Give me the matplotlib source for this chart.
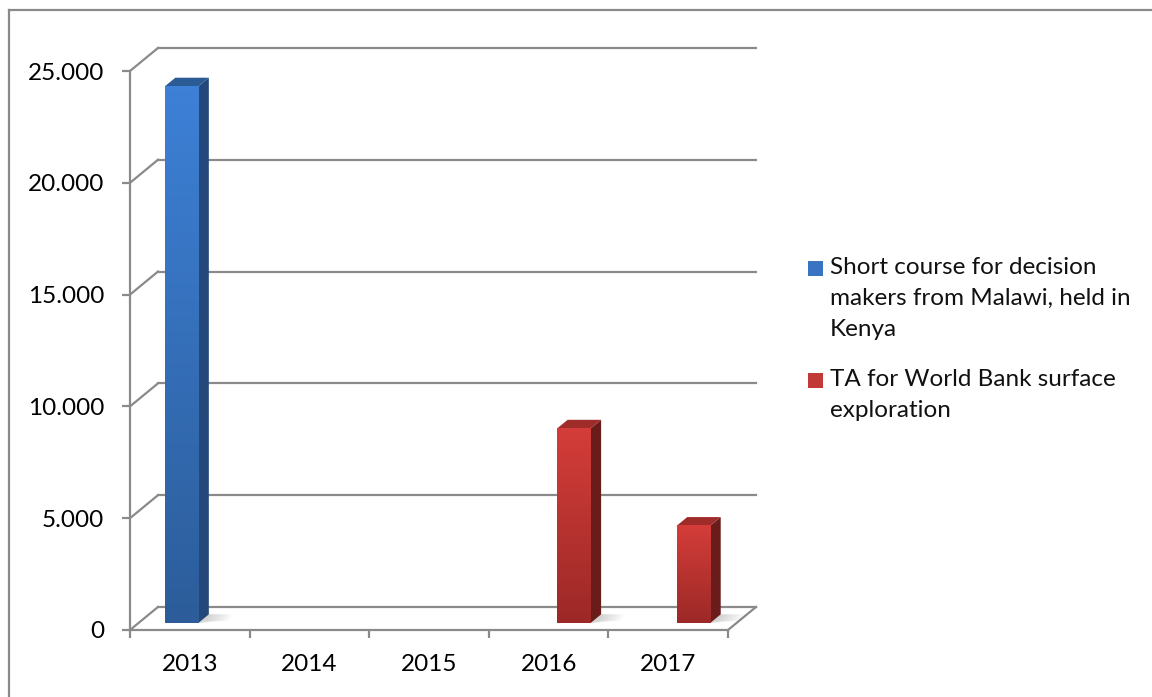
import numpy as np
import matplotlib.pyplot as plt
from matplotlib.patches import Polygon, Rectangle
from matplotlib.lines import Line2D
from matplotlib.colors import LinearSegmentedColormap

# Values per year for the two activities
years = ['2013', '2014', '2015', '2016', '2017']
short_course = [24000, 0, 0, 0, 0]
ta_world_bank = [0, 0, 0, 8700, 4350]
y_ticks = [0, 5000, 10000, 15000, 20000, 25000]
y_labels = ['0', '5.000', '10.000', '15.000', '20.000', '25.000']
legend_labels = ['Short course for decision\nmakers from Malawi, held in\nKenya',
                 'TA for World Bank surface\nexploration']

plt.rcParams['font.family'] = ['Lato', 'DejaVu Sans']

W, H = 1152, 697
fig = plt.figure(figsize=(W / 100, H / 100), dpi=100)
ax = fig.add_axes([130 / W, (H - 630) / H, 598 / W, 559 / H])
ax.set_xlim(-0.5, 4.5)
ax.set_ylim(0, 25000)

grey = '#8a8a8a'
lw = 1.6

# depth of the fake 3d box, in data units
DX, DY = 0.234, 1030

# back wall gridlines and the slanted side lines
for t in y_ticks:
    ax.plot([-0.5 + DX, 4.5 + DX], [t + DY, t + DY], color=grey, lw=lw, clip_on=False, zorder=1)
    ax.plot([-0.5, -0.5 + DX], [t, t + DY], color=grey, lw=lw, clip_on=False, zorder=1)
ax.plot([4.5, 4.5 + DX], [0, DY], color=grey, lw=lw, clip_on=False, zorder=1)

for s in ['top', 'right']:
    ax.spines[s].set_visible(False)
for s in ['left', 'bottom']:
    ax.spines[s].set_color(grey)
    ax.spines[s].set_linewidth(lw)

ax.set_yticks(y_ticks)
ax.set_yticklabels(y_labels, fontsize=17.5)
ax.tick_params(axis='y', length=5.5, width=lw, color=grey, pad=13)
ax.set_xticks(range(len(years)))
ax.set_xticklabels(years, fontsize=17.5)
ax.set_xticks(np.arange(-0.5, 5, 1), minor=True)
ax.tick_params(axis='x', which='major', length=0, pad=17)
ax.tick_params(axis='x', which='minor', length=5.5, width=lw, color=grey)
ax.patch.set_visible(False)

# bar geometry
w = 0.28
f0 = 0.3           # depth of the front face
fb = 0.38          # depth of the bar itself
bdx, bdy = fb * DX, fb * DY
base = f0 * DY

series = [
    (short_course, ['#2c5d9a', '#3d80d6'], '#24487a', '#2a5b95'),
    (ta_world_bank, ['#9c2927', '#d43d39'], '#6a1c1b', '#a02c2a'),
]


def draw_bar(x0, h, front, side, top):
    x1 = x0 + w
    y0, y1 = base, base + h
    # soft shadow on the floor
    for k in range(8):
        ext = 0.025 * (k + 1)
        ax.add_patch(Polygon([[x1, y0], [x1 + ext + bdx * 0.6, y0 + bdy * 0.3],
                              [x1 + ext + bdx, y0 + bdy], [x1, y0 + bdy]],
                             closed=True, fc='#707070', ec='none', alpha=0.04,
                             clip_on=False, zorder=2))
    ax.add_patch(Polygon([[x1, y0], [x1 + bdx, y0 + bdy], [x1 + bdx, y1 + bdy], [x1, y1]],
                         closed=True, fc=side, ec='none', clip_on=False, zorder=3))
    ax.add_patch(Polygon([[x0, y1], [x1, y1], [x1 + bdx, y1 + bdy], [x0 + bdx, y1 + bdy]],
                         closed=True, fc=top, ec='none', clip_on=False, zorder=3))
    cmap = LinearSegmentedColormap.from_list('g', front)
    grad = np.linspace(1, 0, 100).reshape(-1, 1)
    ax.imshow(grad, cmap=cmap, extent=(x0, x1, y0, y1), aspect='auto',
              zorder=4, clip_on=False, interpolation='bilinear')


for s, (vals, front, side, top) in enumerate(series):
    for i, v in enumerate(vals):
        if v > 0:
            draw_bar(i + f0 * DX - w + s * w, v, front, side, top)

ax.set_xlim(-0.5, 4.5)
ax.set_ylim(0, 25000)


def px(x, y):
    return x / W, 1 - y / H


# legend
leg_colors = ['#3a73c2', '#c23a37']
leg_rows = [261, 373]
for c, y, lab in zip(leg_colors, leg_rows, legend_labels):
    x0, y0 = px(808, y + 15)
    fig.patches.append(Rectangle((x0, y0), 15 / W, 15 / H, transform=fig.transFigure,
                                 fc=c, ec='none'))
    tx, ty = px(830, y - 4)
    fig.text(tx, ty, lab, fontsize=17.5, va='top', ha='left', linespacing=1.6,
             color='#111111')

# chart border
fig.lines.append(Line2D([8.5 / W, 1], [1 - 9.5 / H, 1 - 9.5 / H], transform=fig.transFigure,
                        color=grey, lw=lw))
fig.lines.append(Line2D([8.5 / W, 8.5 / W], [0, 1 - 9.5 / H], transform=fig.transFigure,
                        color=grey, lw=lw))

fig.savefig('out.png', dpi=100)
